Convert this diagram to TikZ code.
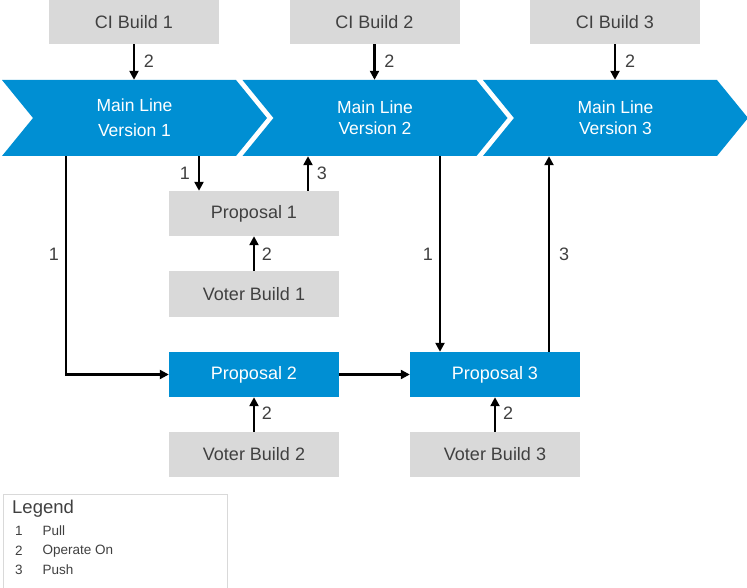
\documentclass[tikz,border=0pt]{standalone}
\usepackage{fontspec}
\setmainfont{Liberation Sans}
\usetikzlibrary{arrows.meta}
\definecolor{sapblue}{HTML}{008FD3}
\definecolor{boxgray}{HTML}{D9D9D9}
\definecolor{txtgray}{HTML}{404040}
\begin{document}
\begin{tikzpicture}[x=1pt,y=-1pt,
  graybox/.style={fill=boxgray, minimum width=170pt, minimum height=45pt, inner sep=0pt, text=txtgray, font=\fontsize{18}{21}\selectfont},
  bluebox/.style={fill=sapblue, minimum width=170pt, minimum height=45pt, inner sep=0pt, text=white, font=\fontsize{18}{21}\selectfont},
  chevtext/.style={minimum width=265pt, minimum height=76pt, inner sep=0pt, text=white, align=center},
  arr/.style={line width=2.5pt, -{Triangle[length=9pt,width=9pt]}},
  lbl/.style={text=txtgray, font=\fontsize{18}{21}\selectfont, inner sep=0pt},
  legtext/.style={text=txtgray, font=\fontsize{13.5}{16}\selectfont, inner sep=0pt}
]
\useasboundingbox (0,0) rectangle (747,588);
% chevrons
\foreach \L in {2,242.5,483}{
  \fill[sapblue] (\L,80) -- (\L+234,80) -- (\L+265,118) -- (\L+234,156) -- (\L,156) -- (\L+31,118) -- cycle;
}
\node[chevtext, font=\fontsize{17.5}{25}\selectfont] (ml1) at (134.5,118) {Main Line\\Version 1};
\node[chevtext, font=\fontsize{17.5}{21}\selectfont] (ml2) at (375,118) {Main Line\\Version 2};
\node[chevtext, font=\fontsize{17.5}{21}\selectfont] (ml3) at (615.5,118) {Main Line\\Version 3};
% CI builds
\node[graybox, minimum height=44pt] (ci1) at (134,22) {CI Build 1};
\node[graybox, minimum height=44pt] (ci2) at (374.5,22) {CI Build 2};
\node[graybox, minimum height=44pt] (ci3) at (615,22) {CI Build 3};
% proposals and voters
\node[graybox] (p1) at (254,213.5) {Proposal 1};
\node[graybox, minimum height=46pt] (v1) at (254,294) {Voter Build 1};
\node[bluebox] (p2) at (254,374.5) {Proposal 2};
\node[graybox] (v2) at (254,454.5) {Voter Build 2};
\node[bluebox] (p3) at (495,374.5) {Proposal 3};
\node[graybox] (v3) at (495,454.5) {Voter Build 3};
% CI arrows
\draw[arr] (ci1.south) -- (ci1.south |- ml1.north);
\draw[arr] (ci2.south) -- (ci2.south |- ml2.north);
\draw[arr] (ci3.south) -- (ci3.south |- ml3.north);
\node[lbl] (l1) at (149,61) {2};
\node[lbl] (l2) at (389.5,61) {2};
\node[lbl] (l3) at (630,61) {2};
% pull / push to proposal 1
\coordinate (xa) at (199,0);
\coordinate (xb) at (308,0);
\draw[arr] (ml1.south -| xa) -- (p1.north -| xa);
\draw[arr] (p1.north -| xb) -- (ml2.south -| xb);
\node[lbl] (l4) at (185,173) {1};
\node[lbl] (l5) at (322,173) {3};
% voters
\draw[arr] (v1.north) -- (p1.south);
\draw[arr] (v2.north) -- (p2.south);
\draw[arr] (v3.north) -- (p3.south);
\node[lbl] (l6) at (267,254) {2};
\node[lbl] (l7) at (267,413) {2};
\node[lbl] (l8) at (508,413) {2};
% pull to proposal 2
\coordinate (xc) at (66,0);
\draw[arr] (ml1.south -| xc) |- (p2.west);
\node[lbl] (l9) at (54,254) {1};
% proposal 2 to proposal 3
\draw[arr] (p2.east) -- (p3.west);
% pull / push proposal 3
\coordinate (xd) at (440,0);
\coordinate (xe) at (549,0);
\draw[arr] (ml2.south -| xd) -- (p3.north -| xd);
\draw[arr] (p3.north -| xe) -- (ml3.south -| xe);
\node[lbl] (l10) at (428,254) {1};
\node[lbl] (l11) at (564,254) {3};
% legend
\node[draw=boxgray, line width=1pt, minimum width=224pt, minimum height=94pt, inner sep=0pt, anchor=north west] (legend) at (2.5,493.5) {};
\node[text=txtgray, font=\fontsize{18.5}{22}\selectfont, inner sep=0pt, anchor=west] (legt) at (12,509) {Legend};
\node[legtext] (n1) at (19,531) {1};
\node[legtext] (n2) at (19,551) {2};
\node[legtext] (n3) at (19,570) {3};
\node[legtext, anchor=west] (t1) at (42.5,531) {Pull};
\node[legtext, anchor=west] (t2) at (42.5,551) {Operate On};
\node[legtext, anchor=west] (t3) at (42.5,570) {Push};
\end{tikzpicture}
\end{document}
